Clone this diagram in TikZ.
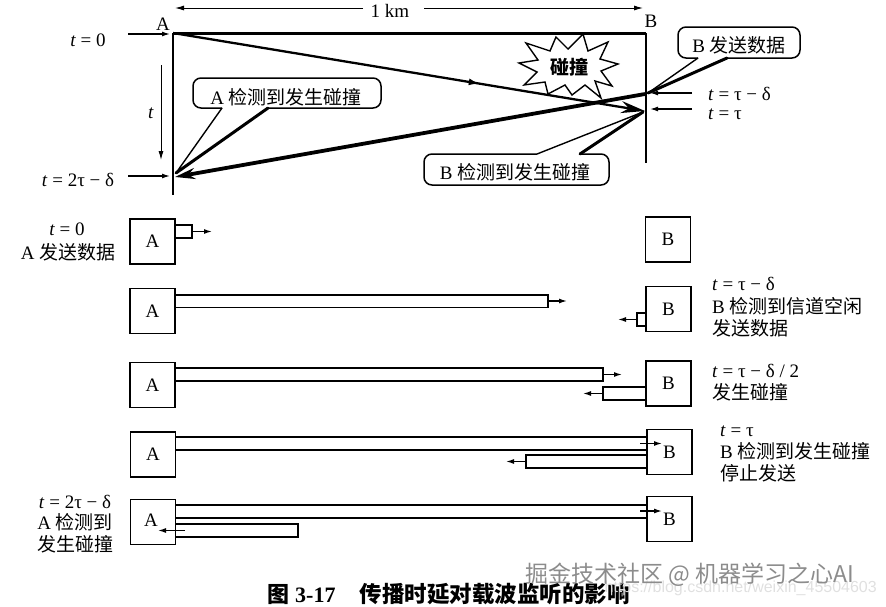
\documentclass[tikz,border=0pt]{standalone}
\usepackage{fontspec}
\setmainfont{Liberation Serif}
\newfontfamily\cjk{Noto Sans CJK SC}
\newfontfamily\urlfont{Liberation Sans}
\usetikzlibrary{arrows.meta,decorations.markings}
\newcommand\zh[1]{{\cjk #1}}
\newcommand\ti{\textit{t}}
\begin{document}
\begin{tikzpicture}[x=1pt,y=-1pt,
  txt/.style={font=\fontsize{19}{23}\selectfont, inner sep=0pt},
  stbox/.style={draw, line width=1.5pt, minimum width=45pt, minimum height=45pt, inner sep=0pt, font=\fontsize{19}{23}\selectfont},
  bar/.style={draw, line width=1.4pt, line join=miter},
  arr/.style={-{Latex[length=8pt,width=5pt]}, line width=1.3pt},
  thinline/.style={line width=1.5pt},
  callout/.style={draw, line width=1.5pt, rounded corners=8pt},
  tailthin/.style={line width=1.4pt},
  tailthick/.style={line width=3pt, line cap=round},
  midarrow/.style={postaction={decorate}, decoration={markings, mark=at position 0.65 with {\arrow{Latex[length=11pt,width=7pt]}}}}
]
\useasboundingbox (0,0) rectangle (886,606);

% ---------------- top: space-time diagram ----------------
\node[txt, anchor=base] (lA) at (163,30) {A};
\node[txt, anchor=base] (lB) at (651,27) {B};
\node[txt, anchor=base] (km) at (390,17) {1 km};
\coordinate (kmL) at (175,8);
\coordinate (kmR) at (643,8);
\draw[-{Latex[length=9pt,width=5pt]}, line width=1pt] (363,8) -- (kmL);
\draw[-{Latex[length=9pt,width=5pt]}, line width=1pt] (424,8) -- (kmR);

\coordinate (A0) at (173,33);
\coordinate (B0) at (646,33);
\coordinate (Abot) at (173,195);
\coordinate (Bbot) at (646,163);
\draw[line width=3pt] (A0) -- (B0);
\draw[thinline] (A0) -- (Abot);
\draw[thinline] (B0) -- (Bbot);

% time labels left
\node[txt, anchor=base] (t0) at (88,46) {\ti{} = 0};
\node[txt, anchor=base] (t2) at (78,186) {\ti{} = 2τ − δ};
\node[txt, anchor=base] (tt) at (151,118) {\ti};
\coordinate (t0s) at (128,34);
\coordinate (t0e) at (170,34);
\coordinate (t2s) at (128,176);
\coordinate (t2e) at (170,176);
\draw[arr] (t0s) -- (t0e);
\draw[arr] (t2s) -- (t2e);
\coordinate (tvs) at (161,65);
\coordinate (tve) at (161,160);
\draw[-{Latex[length=9pt,width=5pt]}, line width=1pt] (tvs) -- (tve);

% time labels right
\node[txt, anchor=base west, text depth=0pt] (ttd) at (708,100) {\ti{} = τ − δ};
\node[txt, anchor=base west, text height=11pt, text depth=0pt] (ttau) at (708,119) {\ti{} = τ};
\coordinate (ttds) at (692,93);
\coordinate (ttde) at (650,93);
\coordinate (ttaus) at (692,109);
\coordinate (ttaue) at (650,109);
\draw[arr] (ttds) -- (ttde);
\draw[arr] (ttaus) -- (ttaue);

% signals
\coordinate (Bhit) at (645,111);
\coordinate (Bstart) at (645,94);
\coordinate (Ahit) at (175,177);
\draw[line width=2.3pt, midarrow, -{Stealth[length=24pt,width=12pt]}] (A0) -- (Bhit);
\draw[line width=3.8pt, -{Stealth[length=20pt,width=11pt]}] (Bstart) -- (Ahit);

% collision star
\draw[line width=1.4pt, fill=white, line join=miter, miter limit=20]
  (618,64) -- (601,71) -- (612,86) -- (595,81) -- (601,98) -- (585,85) -- (572,95) -- (565,85)
  -- (548,94) -- (545,82) -- (524,85) -- (537,72) -- (519,63) -- (538,60) -- (526,43)
  -- (550,51) -- (556,37) -- (568,49) -- (583,34) -- (588,51) -- (608,42) -- (600,59) -- cycle;
\node[txt, font=\fontsize{19}{23}\selectfont\cjk\bfseries] (coll) at (569,67) {碰撞};

% callout: A detects collision
\coordinate (tipA) at (176,173);
\draw[callout] (222,108) -- (193,108) -- (193,78) -- (381,78) -- (381,108) -- (268,108);
\draw[tailthin] (222,108) -- (tipA);
\draw[tailthick] (268,108) -- (tipA);
\node[txt, anchor=base] (cA) at (286,104) {A \zh{检测到发生碰撞}};

% callout: B detects collision
\coordinate (tipB) at (643,112);
\draw[callout] (537,154) -- (424,154) -- (424,185) -- (609,185) -- (609,154) -- (580,154);
\draw[tailthin] (537,154) -- (tipB);
\draw[tailthick] (580,154) -- (tipB);
\node[txt, anchor=base] (cB) at (515,179) {B \zh{检测到发生碰撞}};

% callout: B sends data
\coordinate (tipS) at (648,93);
\draw[callout] (698,58) -- (678,58) -- (678,27) -- (800,27) -- (800,58) -- (727,58);
\draw[tailthin] (698,58) -- (tipS);
\draw[tailthick] (727,58) -- (tipS);
\node[txt, anchor=base] (cS) at (739,52) {B \zh{发送数据}};

% ---------------- lower rows ----------------
% row 1
\node[stbox] (A1) at (152.5,241.5) {A};
\node[stbox] (B1) at (668,239.5) {B};
\draw[bar] (175,225) rectangle (192,238);
\draw[arr] (192,231.5) -- (212,231.5);
\node[txt, anchor=base] (r1a) at (67,235) {\ti{} = 0};
\node[txt, anchor=base] (r1b) at (68,259) {A \zh{发送数据}};

% row 2
\node[stbox] (A2) at (152.5,311) {A};
\node[stbox] (B2) at (668.5,309) {B};
\draw[bar] (175,295) -- (548,295) -- (548,307.5) -- (175,307.5);
\draw[arr] (548,301) -- (567,301);
\draw[bar] (646,313) -- (637,313) -- (637,326) -- (646,326);
\draw[arr] (637,319.5) -- (618,319.5);
\node[txt, anchor=base west] (r2a) at (712,290) {\ti{} = τ − δ};
\node[txt, anchor=base west] (r2b) at (712,313) {B \zh{检测到信道空闲}};
\node[txt, anchor=base west] (r2c) at (712,335) {\zh{发送数据}};

% row 3
\node[stbox] (A3) at (152.5,385) {A};
\node[stbox] (B3) at (668.5,383.5) {B};
\draw[bar] (175,368) -- (603,368) -- (603,381) -- (175,381);
\draw[arr] (603,374.5) -- (622,374.5);
\draw[bar] (646,387) -- (603,387) -- (603,400) -- (646,400);
\draw[arr] (603,393.5) -- (583,393.5);
\node[txt, anchor=base west] (r3a) at (712,377) {\ti{} = τ − δ / 2};
\node[txt, anchor=base west] (r3b) at (712,399) {\zh{发生碰撞}};

% row 4
\node[stbox] (A4) at (153,454.5) {A};
\node[stbox] (B4) at (669.5,452) {B};
\draw[bar] (175.5,437) -- (647,437);
\draw[bar] (175.5,450) -- (647,450);
\draw[arr] (640,443.5) -- (662,443.5);
\draw[bar] (647,455) -- (526,455) -- (526,468) -- (647,468);
\draw[arr] (526,461.5) -- (506,461.5);
\node[txt, anchor=base west] (r4a) at (720,436) {\ti{} = τ};
\node[txt, anchor=base west] (r4b) at (720,458) {B \zh{检测到发生碰撞}};
\node[txt, anchor=base west] (r4c) at (720,480) {\zh{停止发送}};

% row 5
\node[stbox] (A5) at (153,522) {};
\node[txt] (A5l) at (151,520) {A};
\node[stbox] (B5) at (669.5,519) {B};
\draw[bar] (175.5,505) -- (647,505);
\draw[bar] (175.5,518) -- (647,518);
\draw[arr] (640,511) -- (662,511);
\draw[bar] (175.5,524) -- (298,524) -- (298,537) -- (175.5,537);
\draw[arr] (185,530.5) -- (158,530.5);
\node[txt, anchor=base] (r5a) at (75,508) {\ti{} = 2τ − δ};
\node[txt, anchor=base] (r5b) at (75,529) {A \zh{检测到}};
\node[txt, anchor=base] (r5c) at (75,551) {\zh{发生碰撞}};

% ---------------- caption & watermark ----------------
\node[inner sep=0pt, anchor=base west, text height=16pt] (cap) at (267,602)
  {{\fontsize{22}{26}\selectfont\cjk\bfseries 图}\hspace{6pt}{\fontsize{22}{26}\selectfont\bfseries 3-17}\hspace{24pt}{\fontsize{22.5}{26}\selectfont\cjk\bfseries 传播时延对载波监听的影响}};
\node[inner sep=0pt, anchor=base east, text=black!12, text height=11pt, text depth=0pt] (url) at (877,592)
  {\fontsize{16}{19}\selectfont\urlfont https://blog.csdn.net/weixin\_45504603};
\node[inner sep=0pt, anchor=base west, text=black!45, text depth=0pt] (wm) at (525,582)
  {\fontsize{23}{27}\selectfont\cjk 掘金技术社区 @ 机器学习之心AI};
\end{tikzpicture}
\end{document}
